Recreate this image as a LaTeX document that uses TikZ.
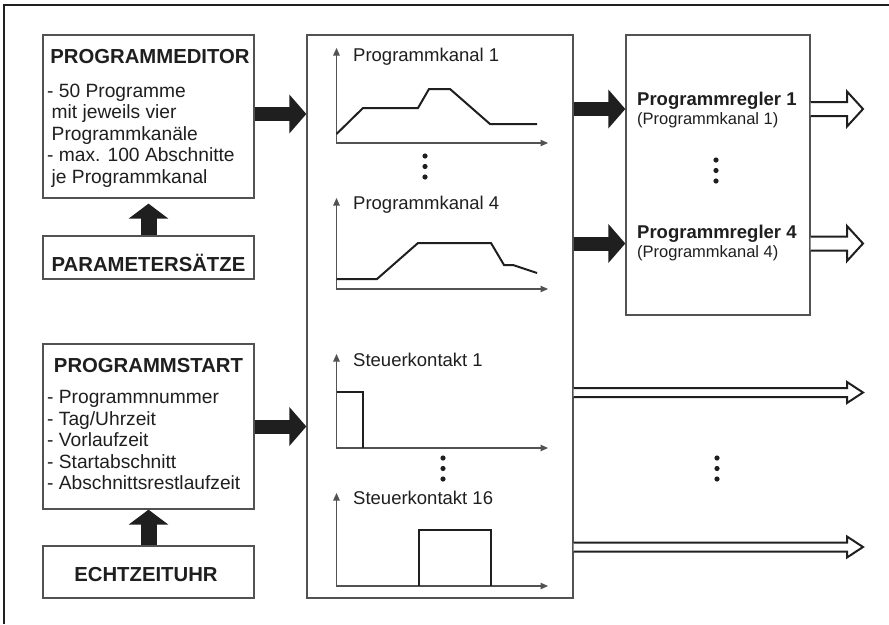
\documentclass[tikz,border=0pt]{standalone}
\usepackage{fontspec}
\setmainfont{Liberation Sans}
\usetikzlibrary{arrows.meta,calc,positioning}

\definecolor{tinte}{gray}{0.12}
\definecolor{rahmen}{gray}{0.32}

\tikzset{
  kasten/.style={draw=rahmen, line width=1.3pt, fill=white, inner sep=0pt},
  titel/.style={font=\fontsize{20.3}{24}\selectfont\bfseries, text=tinte, inner sep=0pt},
  liste/.style={font=\fontsize{19.2}{21.5}\selectfont, text=tinte, inner sep=0pt, align=left},
  kurvenlabel/.style={font=\fontsize{18.5}{22}\selectfont, text=tinte, inner sep=0pt},
  reglerkopf/.style={font=\fontsize{18.5}{22}\selectfont\bfseries, text=tinte, inner sep=0pt},
  reglerzusatz/.style={font=\fontsize{16.5}{20}\selectfont, text=tinte, inner sep=0pt},
  achse/.style={draw=rahmen, line width=1.1pt, {Triangle[width=6.5pt,length=7.5pt]}-{Triangle[width=6.5pt,length=7.5pt]}},
  kurve/.style={draw=tinte, line width=2pt},
  vollpfeil/.style={draw=tinte, line width=14pt, -{Triangle[width=38pt,length=17pt]}},
  hochpfeil/.style={draw=tinte, line width=16pt, -{Triangle[width=39pt,length=15pt]}},
  hohl/.style={draw=tinte, line width=2pt, fill=white, line join=miter}
}

% hollow block arrow: start, tip, shaft half width, head half width, head length
\newcommand{\hohlpfeil}[5]{%
  \draw[hohl] let \p1=(#1), \p2=(#2) in
    (\x1,\y1+#3) -- (\x2-#5,\y1+#3) -- (\x2-#5,\y1+#4) -- (\x2,\y1)
    -- (\x2-#5,\y1-#4) -- (\x2-#5,\y1-#3) -- (\x1,\y1-#3);}

\begin{document}
\begin{tikzpicture}[x=1pt, y=-1pt]
    \useasboundingbox (0,0) rectangle (889,624);

    % Outer frame
    \draw[tinte, line width=2.6pt] (889,5) -- (4,5) -- (4,624);

    % Left column (list nodes sit on the baseline of their last line)
    \node[kasten, minimum width=211pt, minimum height=163pt] (editor) at (148.5,116.5) {};
    \node[titel, anchor=base] (editorkopf) at (150,63.5) {PROGRAMMEDITOR};
    \node[liste, anchor=base west] (editortext) at (47,183) {- 50 Programme\\\hspace*{4.5pt}mit jeweils vier\\\hspace*{4.5pt}Programmkanäle\\- max. 100 Abschnitte\\\hspace*{4.5pt}je Programmkanal};

    \node[kasten, minimum width=211pt, minimum height=43pt] (param) at (148.5,257.5) {};
    \node[titel, anchor=base] (paramtext) at (148.5,271.5) {PARAMETERSÄTZE};

    \node[kasten, minimum width=211pt, minimum height=165pt] (start) at (148.5,426.5) {};
    \node[titel, anchor=base] (startkopf) at (148.5,372) {PROGRAMMSTART};
    \node[liste, anchor=base west] (starttext) at (47,489.5) {- Programmnummer\\- Tag/Uhrzeit\\- Vorlaufzeit\\- Startabschnitt\\- Abschnittsrestlaufzeit};

    \node[kasten, minimum width=211pt, minimum height=52pt] (uhr) at (148.5,572) {};
    \node[titel, anchor=base] (uhrtext) at (146,581) {ECHTZEITUHR};

    % Middle panel with the curves
    \node[kasten, minimum width=266pt, minimum height=563pt] (plan) at (440,316.5) {};

    \draw[achse] (336.5,48) -- (336.5,143) -- (548,143);
    \node[kurvenlabel, anchor=base west] (k1label) at (353,61) {Programmkanal 1};
    \draw[kurve] (336.5,134) -- (363,108) -- (418,108) -- (429,89) -- (450,89) -- (490,124) -- (537,124);

    \draw[achse] (336.5,198) -- (336.5,289) -- (548,289);
    \node[kurvenlabel, anchor=base west] (k4label) at (353,209) {Programmkanal 4};
    \draw[kurve] (336.5,279) -- (377,279) -- (418,243) -- (491,243) -- (504,265) -- (513,265) -- (537,273);

    \draw[achse] (336.5,354) -- (336.5,448) -- (548,448);
    \node[kurvenlabel, anchor=base west] (s1label) at (353,366) {Steuerkontakt 1};
    \draw[kurve] (336.5,392) -- (363,392) -- (363,448);

    \draw[achse] (336.5,493) -- (336.5,586) -- (548,586);
    \node[kurvenlabel, anchor=base west] (s16label) at (353,504) {Steuerkontakt 16};
    \draw[kurve] (419,586) -- (419,530) -- (491,530) -- (491,586);

    % Right box
    \node[kasten, minimum width=184pt, minimum height=280pt] (regler) at (718,175) {};
    \node[reglerkopf, anchor=base west] (regler1) at (637,105) {Programmregler 1};
    \node[reglerzusatz, anchor=base west] (regler1kanal) at (637,124.5) {(Programmkanal 1)};
    \node[reglerkopf, anchor=base west] (regler4) at (637,238) {Programmregler 4};
    \node[reglerzusatz, anchor=base west] (regler4kanal) at (637,257) {(Programmkanal 4)};

    % Dots
    \foreach \x/\y in {425/156, 443/458, 716/160, 717/458}
        \foreach \d in {0,10.5,21}
            \fill[tinte] (\x,\y+\d) circle (2.6pt);

    % Arrow ends
    \coordinate (aus1) at (863,109);
    \coordinate (aus4) at (863,243.5);
    \coordinate (kontakt1) at (863,392.5);
    \coordinate (kontakt16) at (863,547);
    \coordinate (einzeile) at (0,114);

    % Black arrows
    \draw[vollpfeil] (editor.east |- einzeile) -- (plan.west |- einzeile);
    \draw[vollpfeil] (start.east) -- (plan.west |- start.east);
    \draw[vollpfeil] (plan.east |- aus1) -- (regler.west |- aus1);
    \draw[vollpfeil] (plan.east |- aus4) -- (regler.west |- aus4);
    \draw[hochpfeil] (param.north) -- ([yshift=-5pt]editor.south);
    \draw[hochpfeil] (uhr.north) -- (start.south);

    % Hollow arrows
    \hohlpfeil{regler.east |- aus1}{aus1}{7pt}{17.5pt}{16pt}
    \hohlpfeil{regler.east |- aus4}{aus4}{7pt}{17.5pt}{16pt}
    \hohlpfeil{plan.east |- kontakt1}{kontakt1}{4.5pt}{10.5pt}{16pt}
    \hohlpfeil{plan.east |- kontakt16}{kontakt16}{4.5pt}{10.5pt}{16pt}
\end{tikzpicture}
\end{document}
